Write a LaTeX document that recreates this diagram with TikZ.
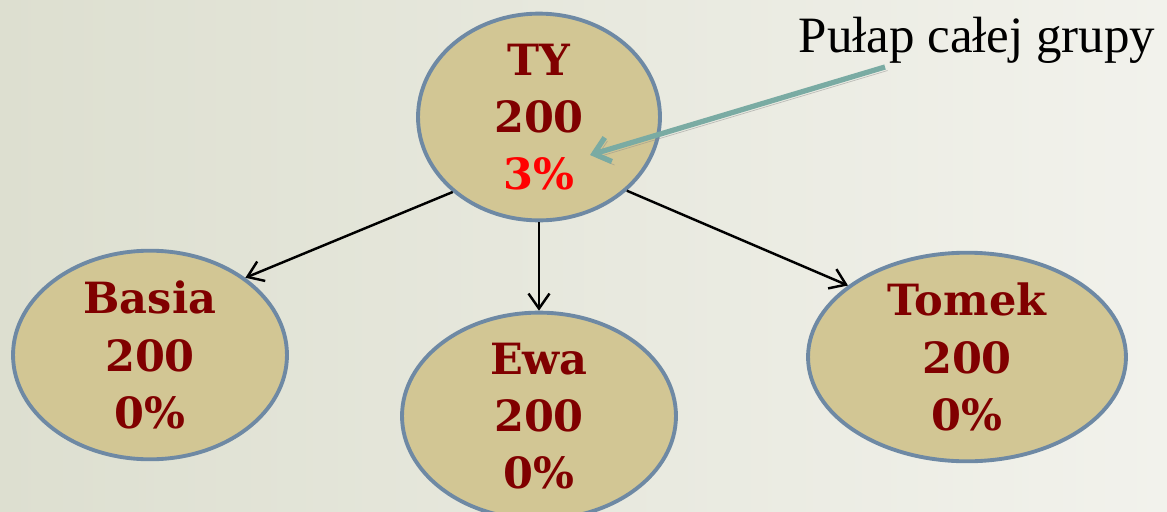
\documentclass[tikz,border=0pt]{standalone}
\usepackage{fontspec}
\setmainfont{DejaVu Serif}
\newfontfamily\notefont{Liberation Serif}
\usepackage{tikz}
\usetikzlibrary{shapes.geometric, arrows.meta, calc, positioning}
\definecolor{bgleft}{RGB}{221,223,208}
\definecolor{bgright}{RGB}{242,242,236}
\definecolor{egg}{RGB}{210,198,148}
\definecolor{rim}{RGB}{110,137,164}
\definecolor{wine}{RGB}{128,0,0}
\definecolor{pointer}{RGB}{122,171,163}

\begin{document}
\begin{tikzpicture}[x=0.02cm, y=-0.02cm]

% TikZ styles
\tikzset{
  person/.style={ellipse, draw=rim, fill=egg, line width=2.2pt, inner sep=0pt, text=wine, align=center, font=\bfseries\fontsize{24.5}{32.5}\selectfont},
  arrow/.style={-{Straight Barb[length=0.3cm, width=0.42cm]}, line width=1.4pt},
  callout/.style={-{Straight Barb[length=0.3cm, width=0.5cm]}, draw=pointer, line width=3pt,
    preaction={draw=black!45, opacity=0.5, transform canvas={xshift=1.5pt, yshift=-2pt}}}
}

% Hintergrund
\shade[left color=bgleft, right color=bgright] (0,0) rectangle (1167,511);
\useasboundingbox (0,0) rectangle (1167,511);

% Knoten
\node[person, minimum width=4.84cm, minimum height=3.84cm] (ty) at (539,117) {TY\\200\\\textcolor{red}{3\%}};
\node[person, minimum width=5.48cm, minimum height=3.84cm] (basia) at (150,355) {Basia\\200\\0\%};
\node[person, minimum width=5.48cm, minimum height=3.84cm] (ewa) at (539,416) {Ewa\\200\\0\%};
\node[person, minimum width=6.36cm, minimum height=3.86cm] (tomek) at (967,357) {Tomek\\200\\0\%};

\node[anchor=base, font=\notefont\fontsize{29}{34}\selectfont] (note) at (977,52) {Pułap całej grupy};
\coordinate (notetail) at ($(note.base)+(-92,15)$);
\coordinate (notetip) at ($(ty.center)+(51,38)$);

% Pfeile
\draw[arrow] (ty.221) -- (basia.39);
\draw[arrow] (ty.south) -- (ewa.north);
\draw[arrow] (ty.320) -- (tomek.149);
\draw[callout] (notetail) -- (notetip);

\end{tikzpicture}
\end{document}
